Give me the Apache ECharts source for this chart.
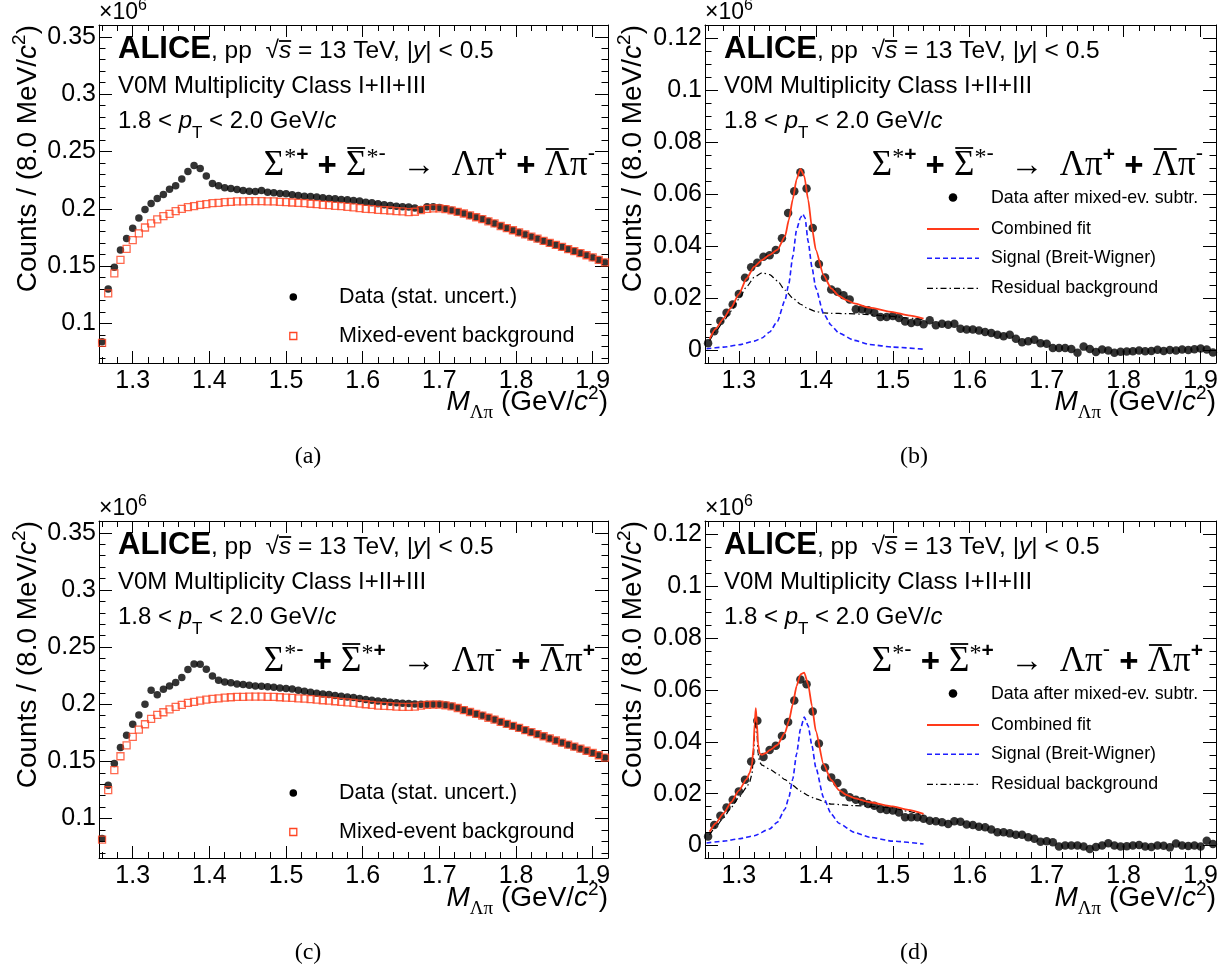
<!DOCTYPE html>
<html><head><meta charset="utf-8">
<script src="https://cdn.jsdelivr.net/npm/echarts@6/dist/echarts.min.js"></script>
<style>html,body{margin:0;padding:0;background:#fff}#chart{width:1231px;height:973px}</style>
</head><body><div id="chart"></div>
<script>
// ---------------- DATA ----------------
const binStart = 1.256, binWidth = 0.008, X_MIN = 1.256, X_MAX = 1.92;
const xTickValues = [1.3, 1.4, 1.5, 1.6, 1.7, 1.8, 1.9];
const xTickLabels = ['1.3', '1.4', '1.5', '1.6', '1.7', '1.8', '1.9'];
const yTickValuesAC = [0.1, 0.15, 0.2, 0.25, 0.3, 0.35];
const yTickLabelsAC = ['0.1', '0.15', '0.2', '0.25', '0.3', '0.35'];
const yTickValuesBD = [0, 0.02, 0.04, 0.06, 0.08, 0.1, 0.12];
const yTickLabelsBD = ['0', '0.02', '0.04', '0.06', '0.08', '0.1', '0.12'];

// (a) Sigma*+ : data and mixed-event background (x10^6 counts)
const dataA = [0.084,0.130,0.149,0.164,0.174,0.183,0.192,0.1994,0.2047,0.209,
0.2125,0.217,0.220,0.226,0.2326,0.2378,0.2352,0.2285,0.222,0.220,
0.2183,0.2177,0.2169,0.216,0.2154,0.2151,0.216,0.2145,0.214,0.2134,
0.2131,0.2122,0.2116,0.211,0.2108,0.2102,0.2096,0.209,0.2087,0.2081,
0.2078,0.2073,0.2067,0.2058,0.2052,0.2044,0.2035,0.2029,0.2023,0.2017,
0.2015,0.2006,0.1994,0.2017,0.2017,0.2012,0.2,0.1988,0.1974,0.196,
0.1942,0.1927,0.191,0.1892,0.1872,0.1849,0.1831,0.1812,0.1794,0.1776,
0.1757,0.1738,0.172,0.1702,0.1684,0.1666,0.1648,0.163,0.1612,0.1594,
0.1575,0.1553,0.1531];
const mixedA = [0.0831,0.1262,0.1436,0.1555,0.1651,0.1727,0.1785,0.1837,0.1872,0.1907,
0.1936,0.1956,0.198,0.2,0.2015,0.2023,0.2035,0.2041,0.2049,0.2052,
0.2058,0.2061,0.2064,0.2064,0.2067,0.2067,0.2067,0.2064,0.2064,0.2061,
0.2058,0.2055,0.2052,0.2049,0.2044,0.2041,0.2035,0.2032,0.2026,0.2023,
0.2017,0.2012,0.2006,0.2,0.1997,0.1991,0.1988,0.1985,0.198,0.1977,
0.1971,0.1974,0.1988,0.2,0.2003,0.2003,0.1997,0.1987,0.1973,0.1959,
0.1942,0.1926,0.1909,0.1891,0.1872,0.185,0.1831,0.1813,0.1795,0.1777,
0.1758,0.1739,0.1721,0.1703,0.1685,0.1667,0.1649,0.1631,0.1613,0.1595,
0.1576,0.1554,0.1532];

// (c) Sigma*- : data and mixed-event background
const dataC = [0.0825,0.1292,0.1481,0.1621,0.1729,0.1825,0.1907,0.2,0.2122,0.2082,
0.2131,0.216,0.219,0.2233,0.2303,0.2353,0.235,0.2306,0.2248,0.221,
0.2195,0.2187,0.2178,0.2172,0.2166,0.216,0.2157,0.2152,0.2149,0.2143,
0.2137,0.2134,0.2122,0.2114,0.2105,0.2096,0.209,0.2085,0.2076,0.207,
0.2064,0.2058,0.205,0.2041,0.2035,0.2029,0.2023,0.2017,0.2012,0.2009,
0.2006,0.2003,0.2,0.2,0.2,0.2,0.1994,0.1983,0.1968,0.195,
0.1933,0.1915,0.1901,0.1883,0.1866,0.1845,0.1828,0.181,0.1792,0.1773,
0.1755,0.1737,0.1719,0.17,0.1682,0.1664,0.1646,0.1628,0.161,0.1592,
0.1573,0.1553,0.1532];
const mixedC = [0.0816,0.1248,0.1423,0.1545,0.1641,0.1714,0.1778,0.1825,0.1872,0.1907,
0.193,0.1956,0.1977,0.1994,0.2012,0.202,0.2032,0.2041,0.2047,0.2052,
0.2058,0.2061,0.2064,0.2064,0.2067,0.2067,0.2067,0.2064,0.2064,0.2061,
0.2058,0.2055,0.2052,0.205,0.2044,0.2041,0.2035,0.2032,0.2026,0.202,
0.2017,0.2012,0.2006,0.2,0.1994,0.1988,0.1985,0.1983,0.198,0.1977,
0.1977,0.198,0.1988,0.1994,0.1997,0.1997,0.1991,0.1982,0.1967,0.1949,
0.1932,0.1915,0.19,0.1882,0.1865,0.1846,0.1829,0.1811,0.1793,0.1774,
0.1756,0.1738,0.172,0.1701,0.1683,0.1665,0.1647,0.1629,0.1611,0.1593,
0.1574,0.1554,0.1533];

// (b) data after mixed-event subtraction, Sigma*+
const dataB = [0.0028,0.0074,0.0114,0.0145,0.0177,0.0217,0.028,0.032,0.0338,0.0361,
0.0366,0.0387,0.0432,0.0529,0.0613,0.0686,0.0623,0.0471,0.0333,0.0281,
0.0235,0.0226,0.0213,0.0196,0.0159,0.0159,0.0155,0.0145,0.0129,0.0129,
0.0133,0.0125,0.0112,0.0106,0.011,0.0101,0.0116,0.0097,0.0103,0.0099,
0.0103,0.0084,0.0081,0.0081,0.0077,0.0071,0.0067,0.0061,0.0055,0.0061,
0.0045,0.0032,0.0036,0.0041,0.0028,0.0026,0.001,0.001,0.001,0.0006,
-0.0009,0.0015,0.0006,-0.0006,0.0004,0,-0.0009,-0.0005,-0.0004,-0.0003,
0.0,-0.0003,-0.0002,0.0003,-0.0002,0.0002,0.0,0.0004,0.0002,0.0005,
0.0008,0.0004,-0.0008];
// (d) data after mixed-event subtraction, Sigma*-
const dataD = [0.0035,0.0079,0.0115,0.0147,0.0177,0.0209,0.0254,0.0324,0.0481,0.0342,
0.0369,0.0385,0.0423,0.0477,0.056,0.0641,0.0622,0.0517,0.0394,0.0301,
0.0263,0.0241,0.0205,0.0186,0.0177,0.0171,0.016,0.0154,0.0141,0.0137,
0.0135,0.0128,0.0109,0.0109,0.0109,0.0103,0.0096,0.0094,0.009,0.0083,
0.0094,0.0092,0.0081,0.0079,0.0073,0.0071,0.0062,0.0051,0.0051,0.0047,
0.0042,0.0042,0.0032,0.0026,0.0015,0.0017,0.0013,-0.0004,0,0,
0,-0.0004,-0.0013,-0.0006,0,0.0009,0,-0.0004,-0.0003,0.0,
0.0002,-0.0004,-0.0006,0.0,-0.0001,-0.0007,0.0008,0.0,-0.0002,0.0,
-0.0004,0.0019,0.0006];

// (b) fit curves
const fitXB = [1.262,1.27,1.28,1.29,1.30,1.31,1.32,1.33,1.34,1.35,1.36,1.365,1.37,1.375,1.38,1.385,1.39,1.395,1.40,1.41,1.42,1.43,1.44,1.45,1.47,1.50,1.52,1.54];
const fitYB = [0.0045,0.0084,0.0123,0.0165,0.0217,0.0277,0.0323,0.0348,0.0368,0.0387,0.0439,0.0503,0.0581,0.0658,0.0699,0.0671,0.0581,0.0471,0.0387,0.029,0.0239,0.021,0.0194,0.0181,0.0165,0.0148,0.0135,0.0123];
const sigXB = [1.258,1.28,1.30,1.32,1.33,1.34,1.35,1.36,1.365,1.37,1.375,1.38,1.383,1.386,1.39,1.395,1.40,1.41,1.42,1.43,1.45,1.47,1.50,1.54];
const sigYB = [0.0007,0.0013,0.0022,0.0036,0.0048,0.0071,0.0112,0.0194,0.0258,0.0361,0.0465,0.051,0.0525,0.051,0.042,0.032,0.024,0.0142,0.0097,0.0067,0.0039,0.0023,0.0013,0.0005];
const bgXB = [1.262,1.27,1.28,1.29,1.30,1.31,1.32,1.33,1.34,1.35,1.36,1.37,1.38,1.39,1.40,1.41,1.42,1.44,1.46,1.48,1.50,1.52,1.54];
const bgYB = [0.0038,0.0074,0.0112,0.0152,0.0198,0.0245,0.0282,0.0299,0.0292,0.0268,0.0232,0.0202,0.0178,0.0161,0.015,0.0145,0.0143,0.0142,0.014,0.0135,0.0131,0.0125,0.0119];

// (d) fit curves
const fitXD = [1.262,1.27,1.28,1.29,1.30,1.31,1.314,1.317,1.319,1.3205,1.322,1.3235,1.325,1.327,1.33,1.335,1.34,1.35,1.36,1.365,1.37,1.375,1.38,1.385,1.39,1.395,1.40,1.41,1.42,1.43,1.44,1.45,1.47,1.50,1.52,1.54];
const fitYD = [0.0053,0.0086,0.0124,0.0167,0.0212,0.0256,0.028,0.031,0.038,0.047,0.053,0.047,0.039,0.0355,0.035,0.0357,0.0368,0.0388,0.0436,0.0481,0.0545,0.0615,0.066,0.0667,0.0622,0.0538,0.0442,0.0314,0.0253,0.0214,0.0195,0.0183,0.0167,0.0151,0.0138,0.0122];
const sigXD = [1.258,1.28,1.30,1.32,1.34,1.35,1.36,1.365,1.37,1.375,1.38,1.385,1.39,1.395,1.40,1.41,1.42,1.43,1.45,1.47,1.50,1.54];
const sigYD = [0.001,0.0017,0.0026,0.0038,0.0064,0.009,0.0141,0.0186,0.0256,0.0353,0.0449,0.0496,0.0462,0.0385,0.0301,0.0186,0.0122,0.0086,0.0051,0.0032,0.0017,0.0006];
const bgXD = [1.262,1.27,1.28,1.29,1.30,1.31,1.314,1.317,1.319,1.3205,1.322,1.3235,1.325,1.327,1.33,1.34,1.35,1.36,1.37,1.38,1.39,1.40,1.42,1.45,1.48,1.50,1.52,1.54];
const bgYD = [0.0041,0.0073,0.0107,0.0147,0.0186,0.0224,0.0245,0.0275,0.0345,0.0435,0.049,0.0435,0.0355,0.0322,0.031,0.0295,0.0277,0.0254,0.0232,0.021,0.0193,0.018,0.016,0.0154,0.015,0.0145,0.0132,0.0116];

// ---------------- HELPERS ----------------
const SANS = "'Liberation Sans', Arial, Helvetica, sans-serif";
const SERIF = "'Liberation Serif', 'Times New Roman', Times, serif";
const RED = '#ff3a1a', BLUE = '#1e1eff', SQ = '#ff4422';
const massBins = dataA.map((_, k) => +(binStart + binWidth * (k + 0.5)).toFixed(4));
const zipBins = arr => massBins.map((m, k) => [m, arr[k]]);
const zip = (xs, ys) => xs.map((x, i) => [x, ys[i]]);

const mctx = document.createElement('canvas').getContext('2d');
const fnt = s => (s.i ? 'italic ' : '') + (s.b ? 'bold ' : '') + s.fs + 'px ' + (s.ff || SANS);
function mathText(segs, x0, base, align) {
  const ws = segs.map(s => { mctx.font = fnt(s); return mctx.measureText(s.t).width; });
  const tot = ws.reduce((a, b) => a + b, 0);
  let x = align === 'right' ? x0 - tot : (align === 'center' ? x0 - tot / 2 : x0);
  const els = [];
  segs.forEach((s, i) => {
    const yb = base + (s.dy || 0);
    els.push({ type: 'text', silent: true, z: 10, x: x, y: yb - 0.35 * s.fs,
      style: { text: s.t, font: fnt(s), fill: '#000', align: 'left', verticalAlign: 'middle',
               textAlign: 'left', textVerticalAlign: 'middle' } });
    if (s.bar) {
      const w = ws[i];
      els.push({ type: 'line', silent: true, z: 10,
        shape: { x1: x + w * s.bar[0], y1: yb - s.bar[2], x2: x + w * s.bar[1], y2: yb - s.bar[2] },
        style: { stroke: '#000', lineWidth: 1.8 } });
    }
    x += ws[i];
  });
  return els;
}

const sup = c => c === '+' ? { t: '+', fs: 21, b: true, dy: -15 } : { t: '-', fs: 22, dy: -16 };
const formulaSegs = (s1, s2) => [
  { t: 'Σ', fs: 35, ff: SERIF }, { t: '*', fs: 24, ff: SERIF, dy: -12 }, sup(s1),
  { t: ' + ', fs: 33, b: true },
  { t: 'Σ', fs: 35, ff: SERIF, bar: [0.06, 0.94, 30] }, { t: '*', fs: 24, ff: SERIF, dy: -12 }, sup(s2),
  { t: '  →  ', fs: 33, ff: SERIF },
  { t: 'Λπ', fs: 35, ff: SERIF }, sup(s1),
  { t: ' + ', fs: 33, b: true },
  { t: 'Λ', fs: 35, ff: SERIF, bar: [0.05, 0.95, 29] }, { t: 'π', fs: 35, ff: SERIF }, sup(s2)
];

const panels = [
  { left: 99, top: 25, width: 509, height: 338, yMin: 0.0655, yMax: 0.3603, yTicks: yTickValuesAC, yLabels: yTickLabelsAC, minorStep: 0.01, type: 'raw', signs: ['+', '-'], cap: '(a)' },
  { left: 705, top: 25, width: 511, height: 338, yMin: -0.0048, yMax: 0.1252, yTicks: yTickValuesBD, yLabels: yTickLabelsBD, minorStep: 0.005, type: 'sub', signs: ['+', '-'], cap: '(b)' },
  { left: 99, top: 521, width: 509, height: 337, yMin: 0.0655, yMax: 0.3603, yTicks: yTickValuesAC, yLabels: yTickLabelsAC, minorStep: 0.01, type: 'raw', signs: ['-', '+'], cap: '(c)' },
  { left: 705, top: 521, width: 511, height: 337, yMin: -0.0048, yMax: 0.1252, yTicks: yTickValuesBD, yLabels: yTickLabelsBD, minorStep: 0.005, type: 'sub', signs: ['-', '+'], cap: '(d)' }
];

const xMinor = [];
for (let k = 0; 1.26 + 0.02 * k <= X_MAX + 1e-9; k++) xMinor.push(+(1.26 + 0.02 * k).toFixed(3));

const grids = [], xAxes = [], yAxes = [], series = [], gfx = [];
const axisLine = { show: true, onZero: false, lineStyle: { color: '#000', width: 1 } };
const noLine = { show: false, onZero: false };
const tickStyle = { color: '#000', width: 1 };

panels.forEach((p, gi) => {
  grids.push({ left: p.left, top: p.top, width: p.width, height: p.height, show: false, containLabel: false, outerBoundsMode: 'none' });
  const yMinor = [];
  for (let v = Math.ceil(p.yMin / p.minorStep) * p.minorStep; v <= p.yMax + 1e-9; v += p.minorStep) yMinor.push(+v.toFixed(4));
  const bx = { gridIndex: gi, type: 'value', min: X_MIN, max: X_MAX, splitLine: { show: false }, axisLabel: { show: false }, silent: true };
  const by = { gridIndex: gi, type: 'value', min: p.yMin, max: p.yMax, splitLine: { show: false }, axisLabel: { show: false }, silent: true };
  xAxes.push(
    Object.assign({}, bx, { position: 'bottom', axisLine,
      axisTick: { show: true, inside: true, length: 12, customValues: xTickValues, lineStyle: tickStyle },
      axisLabel: { show: true, customValues: xTickValues, formatter: v => xTickLabels[xTickValues.findIndex(t => Math.abs(t - v) < 1e-6)],
        color: '#000', fontSize: 25, fontFamily: SANS, margin: 6 } }),
    Object.assign({}, bx, { position: 'top', axisLine, axisTick: { show: true, inside: true, length: 12, customValues: xTickValues, lineStyle: tickStyle } }),
    Object.assign({}, bx, { position: 'bottom', axisLine: noLine, axisTick: { show: true, inside: true, length: 6, customValues: xMinor, lineStyle: tickStyle } }),
    Object.assign({}, bx, { position: 'top', axisLine: noLine, axisTick: { show: true, inside: true, length: 6, customValues: xMinor, lineStyle: tickStyle } })
  );
  yAxes.push(
    Object.assign({}, by, { position: 'left', axisLine,
      axisTick: { show: true, inside: true, length: 13, customValues: p.yTicks, lineStyle: tickStyle },
      axisLabel: { show: true, customValues: p.yTicks, formatter: v => p.yLabels[p.yTicks.findIndex(t => Math.abs(t - v) < 1e-6)],
        color: '#000', fontSize: 25, fontFamily: SANS, margin: 3 } }),
    Object.assign({}, by, { position: 'right', axisLine, axisTick: { show: true, inside: true, length: 13, customValues: p.yTicks, lineStyle: tickStyle } }),
    Object.assign({}, by, { position: 'left', axisLine: noLine, axisTick: { show: true, inside: true, length: 6.5, customValues: yMinor, lineStyle: tickStyle } }),
    Object.assign({}, by, { position: 'right', axisLine: noLine, axisTick: { show: true, inside: true, length: 6.5, customValues: yMinor, lineStyle: tickStyle } })
  );
  const ax = { xAxisIndex: gi * 4, yAxisIndex: gi * 4 };
  if (p.type === 'raw') {
    const d = gi === 0 ? dataA : dataC, m = gi === 0 ? mixedA : mixedC;
    series.push(Object.assign({ type: 'scatter', name: 'Data (stat. uncert.)', data: zipBins(d), symbol: 'circle', symbolSize: 7.5,
      itemStyle: { color: '#000' }, z: 2, silent: true }, ax));
    series.push(Object.assign({ type: 'scatter', name: 'Mixed-event background', data: zipBins(m), symbol: 'rect', symbolSize: 7,
      itemStyle: { color: 'rgba(0,0,0,0)', borderColor: SQ, borderWidth: 1.3 }, z: 3, silent: true }, ax));
  } else {
    const isB = gi === 1;
    series.push(Object.assign({ type: 'scatter', name: 'Data after mixed-ev. subtr.', data: zipBins(isB ? dataB : dataD), symbol: 'circle', symbolSize: 8.5,
      itemStyle: { color: '#000' }, z: 2, silent: true }, ax));
    series.push(Object.assign({ type: 'line', name: 'Residual background', data: isB ? zip(bgXB, bgYB) : zip(bgXD, bgYD), showSymbol: false, symbol: 'none',
      smooth: 0.2, smoothMonotone: 'x', lineStyle: { color: '#000', width: 1.2, type: [6, 3, 1.5, 3] }, z: 3, silent: true }, ax));
    series.push(Object.assign({ type: 'line', name: 'Signal (Breit-Wigner)', data: isB ? zip(sigXB, sigYB) : zip(sigXD, sigYD), showSymbol: false, symbol: 'none',
      smooth: 0.2, smoothMonotone: 'x', lineStyle: { color: BLUE, width: 1.6, type: [5, 3] }, z: 4, silent: true }, ax));
    series.push(Object.assign({ type: 'line', name: 'Combined fit', data: isB ? zip(fitXB, fitYB) : zip(fitXD, fitYD), showSymbol: false, symbol: 'none',
      smooth: 0.2, smoothMonotone: 'x', lineStyle: { color: RED, width: 1.8 }, z: 5, silent: true }, ax));
  }

  // ---- texts ----
  const L = p.left, T = p.top, R = p.left + p.width, dy = T - 25;
  gfx.push(...mathText([{ t: '×10', fs: 23 }, { t: '6', fs: 16, dy: -10 }], L, 21 + dy, 'left'));
  gfx.push({ type: 'group', x: L - (p.type === 'raw' ? 61 : 62), y: T, rotation: Math.PI / 2,
    children: mathText([{ t: 'Counts / (8.0 MeV/', fs: 28 }, { t: 'c', fs: 28, i: true }, { t: '2', fs: 19, dy: -12 }, { t: ')', fs: 28 }], 0, 0, 'right') });
  gfx.push(...mathText([{ t: 'M', fs: 28, i: true }, { t: 'Λπ', fs: 19, ff: SERIF, dy: 8 }, { t: ' (GeV/', fs: 28 }, { t: 'c', fs: 28, i: true }, { t: '2', fs: 19, dy: -12 }, { t: ')', fs: 28 }], R, 412 + dy, 'right'));
  const tx = L + 19;
  gfx.push(...mathText([{ t: 'ALICE', fs: 31, b: true }, { t: ', pp  ', fs: 24.5 }, { t: '√', fs: 24.5 }, { t: 's', fs: 24.5, i: true, bar: [0, 1, 19] },
    { t: ' = 13 TeV, |', fs: 24.5 }, { t: 'y', fs: 24.5, i: true }, { t: '| < 0.5', fs: 24.5 }], tx, 60 + dy, 'left'));
  gfx.push(...mathText([{ t: 'V0M Multiplicity Class I+II+III', fs: 24 }], tx, 95 + dy, 'left'));
  gfx.push(...mathText([{ t: '1.8 < ', fs: 24 }, { t: 'p', fs: 24, i: true }, { t: 'T', fs: 17, dy: 9 }, { t: ' < 2.0 GeV/', fs: 24 }, { t: 'c', fs: 24, i: true }], tx, 130 + dy, 'left'));
  gfx.push(...mathText(formulaSegs(p.signs[0], p.signs[1]), R - 13, 178 + dy, 'right'));
  gfx.push(...mathText([{ t: p.cap, fs: 24, ff: SERIF }], L + 209, 465 + dy, 'center'));
  if (p.type === 'raw') {
    gfx.push({ type: 'circle', silent: true, shape: { cx: L + 194.3, cy: 297 + dy, r: 3.8 }, style: { fill: '#000' } });
    gfx.push({ type: 'rect', silent: true, shape: { x: L + 190.8, y: 332.5 + dy, width: 7, height: 7 }, style: { fill: 'none', stroke: SQ, lineWidth: 1.3 } });
    gfx.push(...mathText([{ t: 'Data (stat. uncert.)', fs: 21.5 }], L + 240, 304.5 + dy, 'left'));
    gfx.push(...mathText([{ t: 'Mixed-event background', fs: 21.5 }], L + 240, 343.5 + dy, 'left'));
  } else {
    gfx.push({ type: 'circle', silent: true, shape: { cx: L + 248, cy: 197.5 + dy, r: 4.3 }, style: { fill: '#000' } });
    gfx.push({ type: 'line', silent: true, shape: { x1: L + 222, y1: 229 + dy, x2: L + 274, y2: 229 + dy }, style: { stroke: RED, lineWidth: 1.8 } });
    gfx.push({ type: 'line', silent: true, shape: { x1: L + 222, y1: 258.3 + dy, x2: L + 274, y2: 258.3 + dy }, style: { stroke: BLUE, lineWidth: 1.6, lineDash: [5, 3] } });
    gfx.push({ type: 'line', silent: true, shape: { x1: L + 222, y1: 288.3 + dy, x2: L + 274, y2: 288.3 + dy }, style: { stroke: '#000', lineWidth: 1.2, lineDash: [6, 3, 1.5, 3] } });
    const lx = L + 286;
    gfx.push(...mathText([{ t: 'Data after mixed-ev. subtr.', fs: 17.8 }], lx, 204 + dy, 'left'));
    gfx.push(...mathText([{ t: 'Combined fit', fs: 17.8 }], lx, 235 + dy, 'left'));
    gfx.push(...mathText([{ t: 'Signal (Breit-Wigner)', fs: 17.8 }], lx, 264.5 + dy, 'left'));
    gfx.push(...mathText([{ t: 'Residual background', fs: 17.8 }], lx, 294.5 + dy, 'left'));
  }
});

const chart = echarts.init(document.getElementById('chart'), null, { renderer: 'canvas', width: 1231, height: 973 });
chart.setOption({
  backgroundColor: '#fff',
  animation: false,
  grid: grids,
  xAxis: xAxes,
  yAxis: yAxes,
  series: series,
  graphic: { elements: gfx }
});
</script>
</body></html>
